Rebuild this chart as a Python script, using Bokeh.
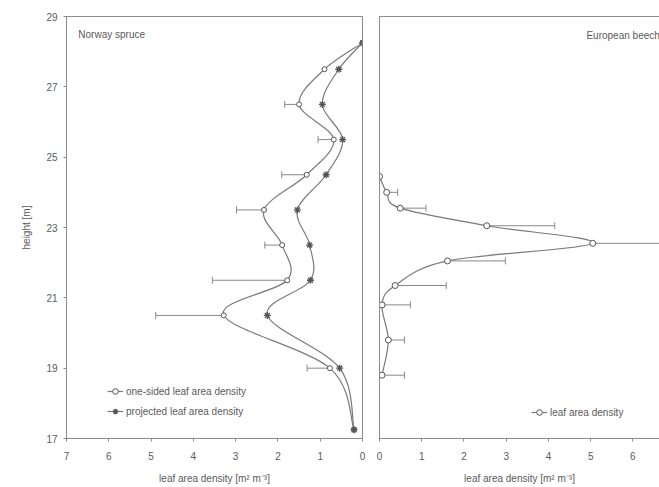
from bokeh.plotting import figure
from bokeh.layouts import row
from bokeh.models import (Range1d, FixedTicker, LinearAxis, Whisker, TeeHead,
                          ColumnDataSource, Legend, LegendItem)
from bokeh.core.properties import value
from bokeh.embed import file_html
from bokeh.resources import INLINE

# ---------------- data ----------------
spruce_height = [28.25, 27.5, 26.5, 25.5, 24.5, 23.5, 22.5, 21.5, 20.5, 19.0, 17.25]
spruce_onesided = [0.0, 0.90, 1.50, 0.68, 1.32, 2.33, 1.90, 1.78, 3.28, 0.77, 0.20]
spruce_onesided_sd = [0.0, 0.0, 0.34, 0.37, 0.59, 0.65, 0.41, 1.77, 1.61, 0.54, 0.0]
spruce_projected = [0.0, 0.56, 0.95, 0.47, 0.86, 1.54, 1.25, 1.23, 2.25, 0.54, 0.20]

beech_height = [24.45, 24.0, 23.55, 23.05, 22.55, 22.05, 21.35, 20.8, 19.8, 18.8]
beech_lad = [0.0, 0.17, 0.49, 2.54, 5.05, 1.61, 0.37, 0.06, 0.21, 0.06]
beech_sd = [0.0, 0.26, 0.61, 1.61, 2.0, 1.37, 1.21, 0.67, 0.38, 0.53]

y_ticks = [17, 19, 21, 23, 25, 27, 29]
spruce_x_ticks = [0, 1, 2, 3, 4, 5, 6, 7]
beech_x_ticks = [0, 1, 2, 3, 4, 5, 6]

FONT = "Liberation Sans"
TEXT_C = "#5a5a5a"
AXIS_C = "#8c8c8c"
CURVE_C = "#7a7a7a"
MARK_C = "#555555"
XLABEL = "leaf area density [m\u00b2 m\u207b\u00b3]"


def smooth_segments(xs, ys):
    """Catmull-Rom style Bezier segments through the data points."""
    n = len(xs)
    d = dict(x0=[], y0=[], x1=[], y1=[], cx0=[], cy0=[], cx1=[], cy1=[])
    for i in range(n - 1):
        a = i - 1 if i > 0 else i
        b = i + 2 if i + 2 < n else i + 1
        d["x0"].append(xs[i]); d["y0"].append(ys[i])
        d["x1"].append(xs[i + 1]); d["y1"].append(ys[i + 1])
        d["cx0"].append(xs[i] + (xs[i + 1] - xs[a]) / 6.0)
        d["cy0"].append(ys[i] + (ys[i + 1] - ys[a]) / 6.0)
        d["cx1"].append(xs[i + 1] - (xs[b] - xs[i]) / 6.0)
        d["cy1"].append(ys[i + 1] - (ys[b] - ys[i]) / 6.0)
    return ColumnDataSource(d)


def style_axis(ax, labels=True):
    ax.axis_line_color = AXIS_C
    ax.major_tick_line_color = AXIS_C
    ax.major_tick_out = 3
    ax.major_tick_in = 0
    ax.minor_tick_line_color = None
    ax.major_label_text_font = FONT
    ax.major_label_text_font_size = "10px"
    ax.major_label_text_color = TEXT_C
    ax.axis_label_text_font = FONT
    ax.axis_label_text_font_size = "10px"
    ax.axis_label_text_font_style = "normal"
    ax.axis_label_text_color = TEXT_C
    if not labels:
        ax.major_tick_out = 0
        ax.major_label_text_font_size = "0px"
        ax.major_label_standoff = 0
        ax.axis_label_standoff = 0


def error_bars(p, xs, ys, sds):
    keep = [i for i in range(len(xs)) if sds[i] > 0]
    src = ColumnDataSource(dict(
        y=[ys[i] for i in keep],
        lo=[xs[i] for i in keep],
        hi=[xs[i] + sds[i] for i in keep]))
    w = Whisker(source=src, base="y", lower="lo", upper="hi", dimension="width",
                line_color="#888888", line_width=1,
                upper_head=TeeHead(size=7, line_color="#888888", line_width=1),
                lower_head=None)
    p.add_layout(w)


def curve(p, xs, ys):
    p.bezier(source=smooth_segments(xs, ys),
             x0="x0", y0="y0", x1="x1", y1="y1", cx0="cx0", cy0="cy0",
             cx1="cx1", cy1="cy1", line_color=CURVE_C, line_width=1.2)
    # single-point line: draws nothing in the plot, supplies the legend's line
    return p.line(xs[:1], ys[:1], line_color=CURVE_C, line_width=1.2)


# ---------------- left panel: Norway spruce ----------------
p1 = figure(width=370, height=487, output_backend="svg", toolbar_location=None,
            x_range=Range1d(7, 0), y_range=Range1d(17, 29),
            min_border_left=66, min_border_right=8, min_border_top=16,
            min_border_bottom=49)
p1.grid.visible = False
p1.outline_line_color = AXIS_C
p1.background_fill_color = "white"
p1.border_fill_color = "white"
p1.xaxis.ticker = FixedTicker(ticks=spruce_x_ticks)
p1.yaxis.ticker = FixedTicker(ticks=y_ticks)
for ax in p1.xaxis + p1.yaxis:
    style_axis(ax)
p1.xaxis.axis_label = XLABEL
p1.yaxis.axis_label = "height [m]"
p1.xaxis.major_label_standoff = 10
p1.xaxis.axis_label_standoff = 10
p1.yaxis.major_label_standoff = 6
p1.yaxis.axis_label_standoff = 11

error_bars(p1, spruce_onesided, spruce_height, spruce_onesided_sd)
l_one = curve(p1, spruce_onesided, spruce_height)
l_proj = curve(p1, spruce_projected, spruce_height)
s_one = p1.scatter(spruce_onesided, spruce_height, marker="circle", size=5,
                   line_color=MARK_C, fill_color="white", line_width=1)
s_proj = p1.scatter(spruce_projected, spruce_height, marker="asterisk", size=7,
                    line_color=MARK_C, line_width=1.3)

p1.text(x=[6.72], y=[28.5], text=["Norway spruce"], text_font=value(FONT),
        text_font_size="10px", text_color=TEXT_C, text_baseline="middle",
        text_align="left")

leg1 = Legend(items=[LegendItem(label="one-sided leaf area density", renderers=[l_one, s_one]),
                     LegendItem(label="projected leaf area density", renderers=[l_proj, s_proj])],
              location=(41, 20), padding=0, margin=0, spacing=6,
              glyph_width=16, glyph_height=14, label_height=14, label_standoff=3,
              label_text_font=FONT, label_text_font_size="10px",
              label_text_color=TEXT_C, border_line_color=None,
              background_fill_alpha=0)
p1.add_layout(leg1)

# ---------------- right panel: European beech ----------------
p2 = figure(width=289, height=487, output_backend="svg", toolbar_location=None,
            x_range=Range1d(0, 6.63), y_range=Range1d(17, 29),
            min_border_left=9, min_border_right=0, min_border_top=16,
            min_border_bottom=49)
p2.grid.visible = False
p2.outline_line_color = None
p2.background_fill_color = "white"
p2.border_fill_color = "white"
p2.xaxis.ticker = FixedTicker(ticks=beech_x_ticks)
p2.yaxis.ticker = FixedTicker(ticks=[])
for ax in p2.xaxis:
    style_axis(ax)
for ax in p2.yaxis:
    style_axis(ax, labels=False)
p2.xaxis.axis_label = XLABEL
p2.xaxis.major_label_standoff = 10
p2.xaxis.axis_label_standoff = 10
top_axis = LinearAxis(ticker=FixedTicker(ticks=[]))
style_axis(top_axis, labels=False)
p2.add_layout(top_axis, "above")

error_bars(p2, beech_lad, beech_height, beech_sd)
l_b = curve(p2, beech_lad, beech_height)
s_b = p2.scatter(beech_lad, beech_height, marker="circle", size=6,
                 line_color=MARK_C, fill_color="white", line_width=1)

p2.text(x=[4.9], y=[28.47], text=["European beech"], text_font=value(FONT),
        text_font_size="10px", text_color=TEXT_C, text_baseline="middle",
        text_align="left")

leg2 = Legend(items=[LegendItem(label="leaf area density", renderers=[l_b, s_b])],
              location=(152, 19), padding=0, margin=0, spacing=6,
              glyph_width=16, glyph_height=14, label_height=14, label_standoff=3,
              label_text_font=FONT, label_text_font_size="10px",
              label_text_color=TEXT_C, border_line_color=None,
              background_fill_alpha=0)
p2.add_layout(leg2)

layout = row(p1, p2)
open("out.html", "w").write(file_html(layout, INLINE))
